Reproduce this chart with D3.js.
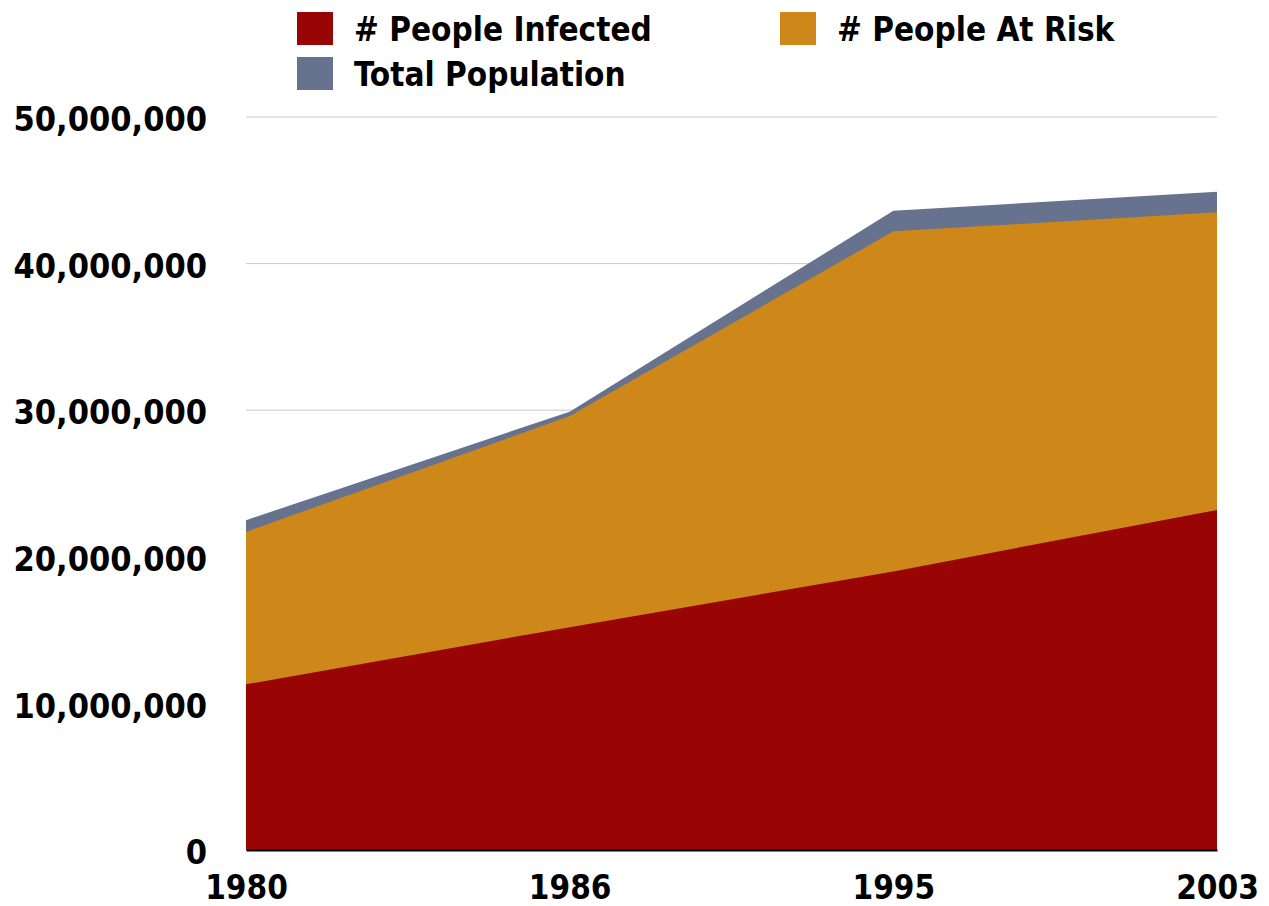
<!DOCTYPE html>
<html>
<head>
<meta charset="utf-8">
<script src="https://cdn.jsdelivr.net/npm/d3@7"></script>
<style>
  body { margin: 0; background: #fff; }
  svg text { font-family: "DejaVu Sans Condensed", "DejaVu Sans", sans-serif; font-stretch: condensed; font-weight: bold; fill: #000; }
</style>
</head>
<body>
<svg id="chart"></svg>
<script>
// Overlaid area chart: infected / at risk / total population, 1980-2003

const years = ["1980", "1986", "1995", "2003"];
const totalPopulation = [22500000, 29900000, 43600000, 44900000];
const peopleAtRisk = [21700000, 29600000, 42200000, 43500000];
const peopleInfected = [11300000, 15200000, 19000000, 23200000];
const yTicks = [0, 10000000, 20000000, 30000000, 40000000, 50000000];

const series = [
    { name: "Total Population", values: totalPopulation, color: "#66728e" },
    { name: "# People At Risk", values: peopleAtRisk, color: "#ce8719" },
    { name: "# People Infected", values: peopleInfected, color: "#990505" }
];

const chartWidth = 1269;
const chartHeight = 906;
const margin = { top: 117, right: 52, bottom: 56, left: 246 };
const width = chartWidth - margin.left - margin.right;
const height = chartHeight - margin.top - margin.bottom;

const svg = d3.select("#chart")
    .attr("width", chartWidth)
    .attr("height", chartHeight);

const g = svg.append("g")
    .attr("transform", `translate(${margin.left}, ${margin.top})`);

const xScale = d3.scalePoint().domain(years).range([0, width]);
const yScale = d3.scaleLinear().domain([0, 50000000]).range([height, 0]);

// gridlines
g.selectAll(".grid")
    .data(yTicks.slice(1))
    .join("line")
    .attr("x1", 0)
    .attr("x2", width)
    .attr("y1", d => yScale(d))
    .attr("y2", d => yScale(d))
    .attr("stroke", "#c8c8c8")
    .attr("stroke-width", 1);

const area = d3.area()
    .x((d, i) => xScale(years[i]))
    .y0(height)
    .y1(d => yScale(d));

g.selectAll(".area")
    .data(series)
    .join("path")
    .attr("fill", d => d.color)
    .attr("d", d => area(d.values));

// y axis labels
const yAxis = d3.axisLeft(yScale)
    .tickValues(yTicks)
    .tickFormat(d3.format(","))
    .tickSize(0)
    .tickPadding(39);

g.append("g")
    .call(yAxis)
    .call(a => a.select(".domain").remove())
    .selectAll("text")
    .attr("font-size", "34px")
    .attr("dy", "0.4em");

// x axis
const xAxis = d3.axisBottom(xScale).tickSize(0).tickPadding(26);

g.append("g")
    .attr("transform", `translate(0, ${height})`)
    .call(xAxis)
    .call(a => a.select(".domain").attr("stroke", "#000").attr("stroke-width", 2))
    .selectAll("text")
    .attr("font-size", "33px");

// legend
const legendItems = [
    { name: "# People Infected", color: "#990505", x: 297, y: 12 },
    { name: "# People At Risk", color: "#ce8719", x: 780, y: 12 },
    { name: "Total Population", color: "#66728e", x: 297, y: 57 }
];

const legend = svg.append("g");
const item = legend.selectAll("g")
    .data(legendItems)
    .join("g")
    .attr("transform", d => `translate(${d.x}, ${d.y})`);

item.append("rect")
    .attr("width", 36)
    .attr("height", 33)
    .attr("fill", d => d.color);

item.append("text")
    .attr("x", 57)
    .attr("y", 29)
    .attr("font-size", "33px")
    .text(d => d.name);
</script>
</body>
</html>
